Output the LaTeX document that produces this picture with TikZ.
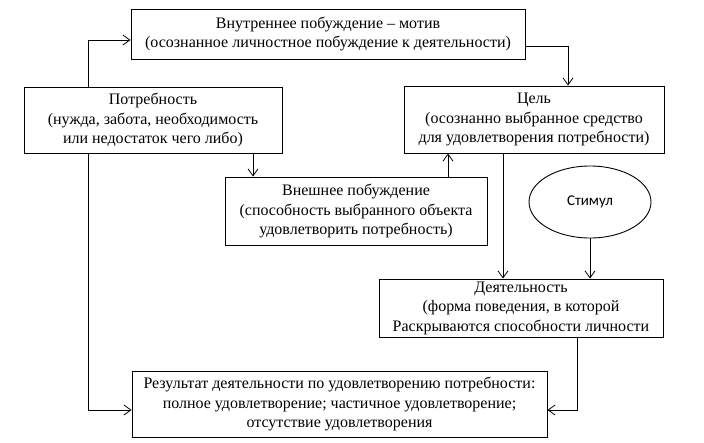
\documentclass[tikz,border=0pt]{standalone}
\usepackage{fontspec}
\setmainfont{Liberation Serif}
\newfontfamily\stimfont{Carlito}
\usepackage{tikz}
\usetikzlibrary{arrows.meta,shapes.geometric}

\begin{document}
\begin{tikzpicture}[x=1pt, y=-1pt,
  box/.style={draw, line width=0.9pt, align=center, inner sep=0pt,
    font=\fontsize{16}{19.5}\selectfont},
  arr/.style={line width=0.8pt, -{Straight Barb[length=7pt,width=10pt,line width=0.8pt]}},
  link/.style={line width=0.8pt}]
\useasboundingbox (0,0) rectangle (704,442);
% boxes
\node[box, minimum width=394pt, minimum height=50pt] (motiv) at (328,34)
  {Внутреннее побуждение – мотив\\(осознанное личностное побуждение к деятельности)};
\node[box, minimum width=258pt, minimum height=66pt] (need) at (153,120)
  {Потребность\\(нужда, забота, необходимость\\или недостаток чего либо)};
\node[box, minimum width=260pt, minimum height=67pt] (goal) at (534,119.5)
  {Цель\\(осознанно выбранное средство\\для удовлетворения потребности)};
\node[box, minimum width=262pt, minimum height=68pt] (extern) at (356,211)
  {Внешнее побуждение\\(способность выбранного объекта\\удовлетворить потребность)};
\node[draw, ellipse, line width=0.9pt, inner sep=0pt, minimum width=122pt,
  minimum height=72pt, font=\stimfont\fontsize{15}{17}\selectfont] (stim) at (590,202) {Стимул};
\node[box, minimum width=284pt, minimum height=58pt] (act) at (521,308)
  {Деятельность\\(форма поведения, в которой\\Раскрываются способности личности};
\node[box, minimum width=415pt, minimum height=66pt] (result) at (339.5,404)
  {Результат деятельности по удовлетворению потребности:\\полное удовлетворение; частичное удовлетворение;\\отсутствие удовлетворения};
% connectors
\draw[arr] ([xshift=-65pt]need.north) |- ([yshift=-6pt]motiv.west);
\draw[arr] ([yshift=-12pt]motiv.east) -| ([xshift=34pt]goal.north);
\draw[arr] ([xshift=100pt]need.south) -- ([xshift=-103pt]extern.north);
\draw[arr] ([xshift=92pt]extern.north) -- ([xshift=-86pt]goal.south);
\draw[arr] ([xshift=-31pt]goal.south) -- ([xshift=-18pt]act.north);
\draw[arr] (stim.south) -- ([xshift=69pt]act.north);
\draw[arr] ([xshift=-65pt]need.south) |- ([yshift=-6pt]result.west);
\draw[arr] ([xshift=56pt]act.south) |- ([yshift=-6pt]result.east);
\end{tikzpicture}
\end{document}
